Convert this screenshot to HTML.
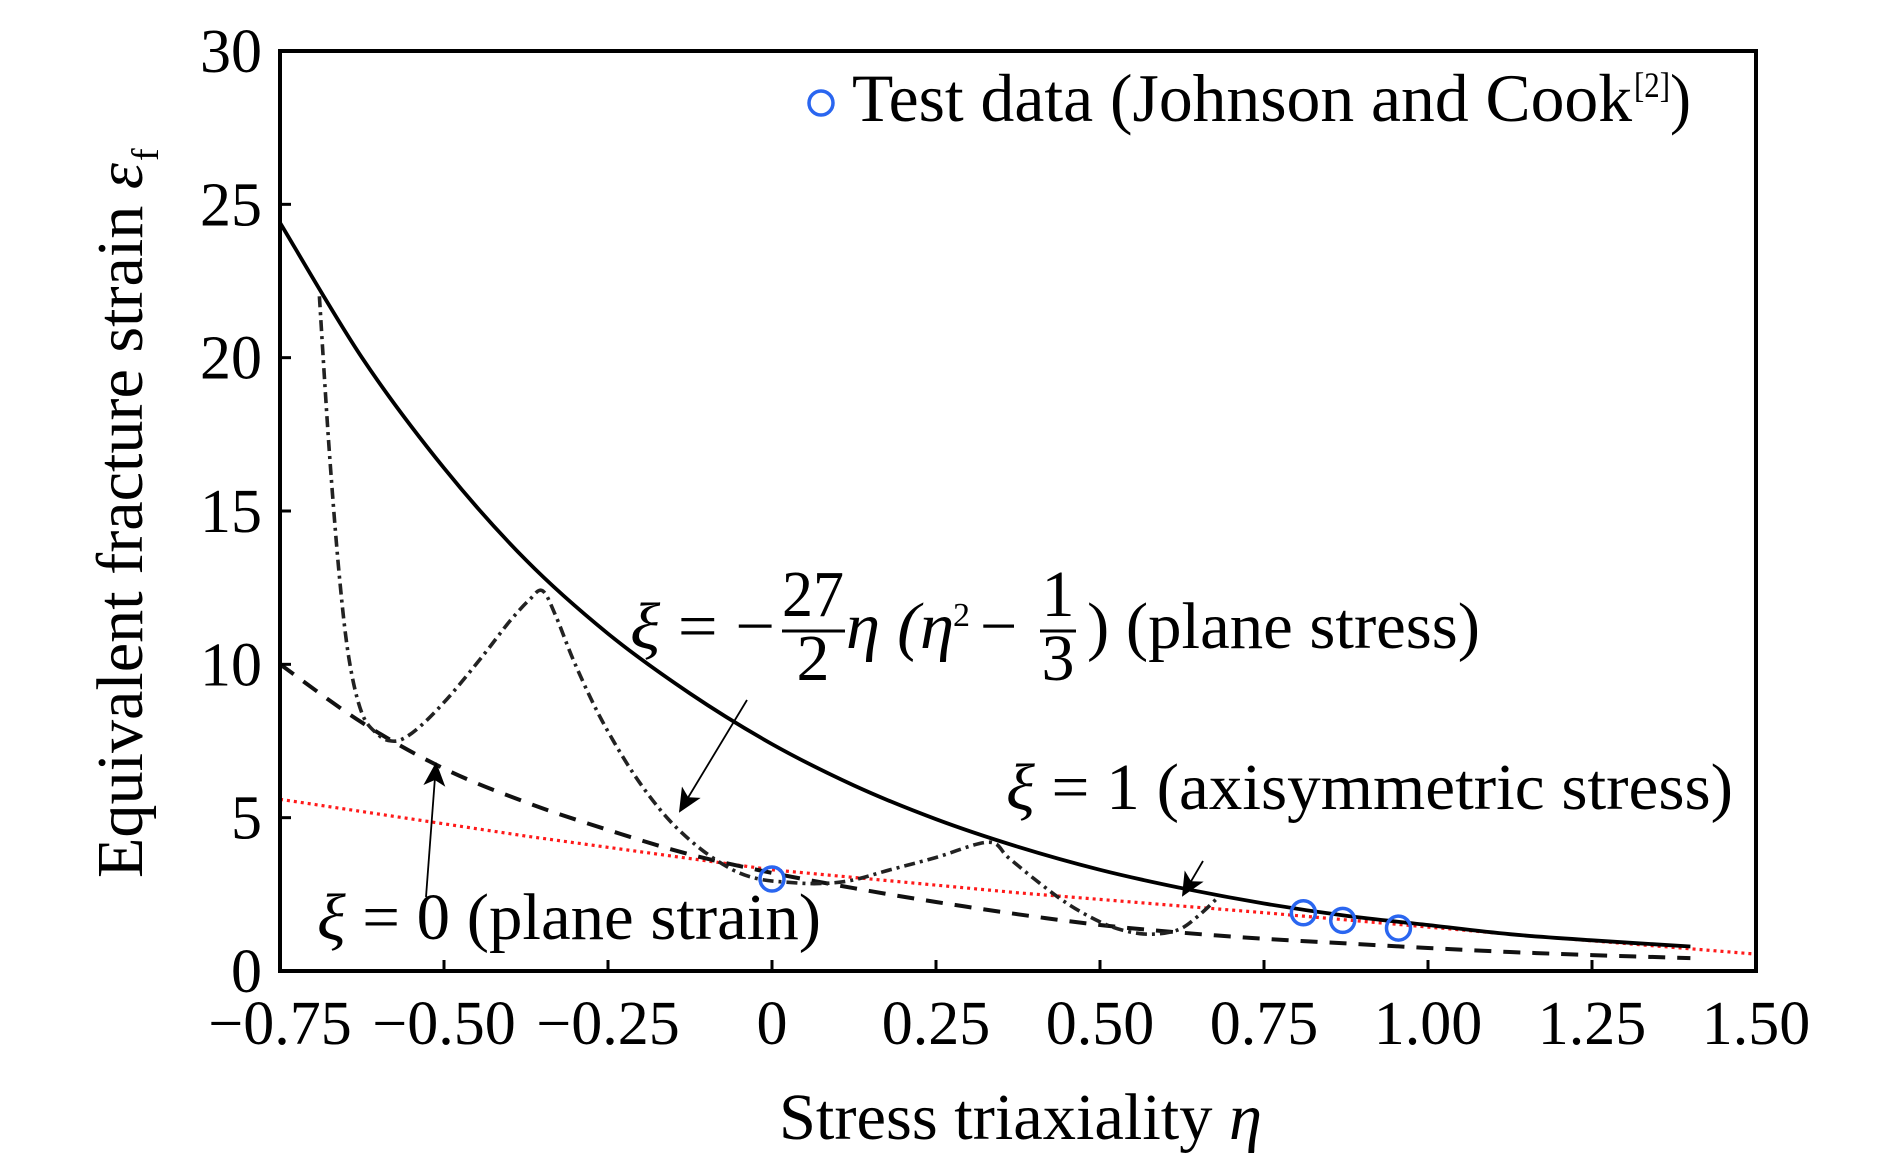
<!DOCTYPE html>
<html><head><meta charset="utf-8"><style>
html,body{margin:0;padding:0;background:#fff;}
svg{display:block;font-family:"Liberation Serif",serif;}
</style></head><body>
<svg id="chart" width="1890" height="1161" viewBox="0 0 1890 1161" xmlns="http://www.w3.org/2000/svg">
<defs>
<marker id="ah2" markerWidth="24" markerHeight="22" refX="22" refY="11" orient="auto" markerUnits="userSpaceOnUse"><path d="M0,0 L24,11 L0,22 L6,11 Z" fill="#000"/></marker>
</defs>
<g id="marks"></g>
<g id="axes"></g>
<g>
<circle cx="821" cy="103" r="12" fill="none" stroke="#2a66f0" stroke-width="3.5"/>
<text x="852" y="121" font-size="68" textLength="780" lengthAdjust="spacingAndGlyphs">Test data (Johnson and Cook</text>
<text x="1634" y="97" font-size="36" textLength="36" lengthAdjust="spacingAndGlyphs">[2]</text>
<text x="1670" y="121" font-size="68" textLength="21" lengthAdjust="spacingAndGlyphs">)</text>
</g>
<g font-size="66">
<text x="630" y="648" textLength="145" lengthAdjust="spacingAndGlyphs"><tspan font-style="italic">ξ</tspan> = −</text>
<text x="813" y="616" text-anchor="middle" textLength="62" lengthAdjust="spacingAndGlyphs">27</text>
<line x1="782" y1="631" x2="845" y2="631" stroke="#000" stroke-width="3"/>
<text x="813" y="680" text-anchor="middle">2</text>
<text x="846" y="648" font-style="italic" textLength="108" lengthAdjust="spacingAndGlyphs">η (η</text>
<text x="953" y="626" font-size="34">2</text>
<text x="980" y="648">−</text>
<text x="1058" y="616" text-anchor="middle">1</text>
<line x1="1040" y1="631" x2="1076" y2="631" stroke="#000" stroke-width="3"/>
<text x="1058" y="680" text-anchor="middle">3</text>
<text x="1087" y="648" textLength="393" lengthAdjust="spacingAndGlyphs">) (plane stress)</text>
</g>
<text x="1006" y="809" font-size="66" textLength="727" lengthAdjust="spacingAndGlyphs"><tspan font-style="italic">ξ</tspan> = 1 (axisymmetric stress)</text>
<text x="317" y="939" font-size="66" textLength="504" lengthAdjust="spacingAndGlyphs"><tspan font-style="italic">ξ</tspan> = 0 (plane strain)</text>
<line x1="747" y1="700" x2="680" y2="811" stroke="#000" stroke-width="1.8" marker-end="url(#ah2)"/>
<line x1="426" y1="897" x2="436" y2="764" stroke="#000" stroke-width="1.8" marker-end="url(#ah2)"/>
<line x1="1203" y1="861" x2="1183" y2="895" stroke="#000" stroke-width="1.8" marker-end="url(#ah2)"/>
<text x="779" y="1139" font-size="66" textLength="483" lengthAdjust="spacingAndGlyphs">Stress triaxiality <tspan font-style="italic">η</tspan></text>
<g transform="translate(142,878) rotate(-90)">
<text x="0" y="0" font-size="66" textLength="715" lengthAdjust="spacingAndGlyphs">Equivalent fracture strain <tspan font-style="italic">ε</tspan></text>
<text x="717" y="16" font-size="38">f</text>
</g>
</svg>
<script>
const xTicks = [-0.75,-0.5,-0.25,0,0.25,0.5,0.75,1.0,1.25,1.5];
const xTickLabels = ["\u22120.75","\u22120.50","\u22120.25","0","0.25","0.50","0.75","1.00","1.25","1.50"];
const yTicks = [0,5,10,15,20,25,30];
const yTickLabels = ["0","5","10","15","20","25","30"];
const axiEta = [-0.75,-0.625,-0.5,-0.375,-0.25,-0.125,0,0.125,0.25,0.375,0.5,0.625,0.75,0.875,1.0,1.125,1.25,1.4];
const axiStrain = [24.4,20.0,16.4,13.4,11.0,9.05,7.4,6.05,4.95,4.05,3.3,2.7,2.2,1.8,1.5,1.2,1.0,0.8];
const strainEta = [-0.75,-0.625,-0.5,-0.375,-0.25,-0.125,0,0.125,0.25,0.375,0.5,0.625,0.75,0.875,1.0,1.125,1.25,1.4];
const strainStrain = [10.0,8.1,6.6,5.5,4.6,3.8,3.2,2.7,2.25,1.85,1.5,1.25,1.05,0.9,0.75,0.62,0.52,0.42];
const fitEta = [-0.75,-0.375,0,0.375,0.75,1.125,1.5];
const fitStrain = [5.6,4.4,3.3,2.55,1.9,1.2,0.55];
const stressEta = [-0.69,-0.675,-0.66,-0.645,-0.625,-0.6,-0.58,-0.56,-0.53,-0.49,-0.44,-0.4,-0.37,-0.35,-0.33,-0.3,-0.26,-0.21,-0.16,-0.11,-0.06,-0.02,0.02,0.07,0.12,0.18,0.25,0.33,0.36,0.4,0.45,0.5,0.54,0.58,0.62,0.65,0.68];
const stressStrain = [22.0,17.0,13.0,10.2,8.4,7.7,7.5,7.6,8.1,9.0,10.3,11.4,12.1,12.4,11.6,10.0,8.2,6.4,5.0,4.0,3.3,3.0,2.9,2.85,2.95,3.3,3.7,4.2,3.7,3.0,2.2,1.6,1.3,1.2,1.35,1.8,2.4];
const testEta = [0,0.81,0.87,0.955];
const testStrain = [3.0,1.9,1.65,1.4];

var NS = "http://www.w3.org/2000/svg";
var X0 = 280, X1 = 1756, Y0 = 971, Y1 = 51;
function sx(v){ return X0 + (v + 0.75) / 2.25 * (X1 - X0); }
function sy(v){ return Y0 - v / 30 * (Y0 - Y1); }
var marks = document.getElementById('marks');
var axes = document.getElementById('axes');
function mk(tag, attrs, parent){
  var e = document.createElementNS(NS, tag);
  for (var k in attrs) e.setAttribute(k, attrs[k]);
  parent.appendChild(e);
  return e;
}
function pathOf(xs, ys){
  return xs.map(function(x,i){ return (i? 'L':'M') + sx(x).toFixed(1) + ',' + sy(ys[i]).toFixed(1); }).join(' ');
}
function smoothPath(xs, ys){
  var p = xs.map(function(x,i){ return [sx(x), sy(ys[i])]; });
  var d = 'M' + p[0][0].toFixed(1) + ',' + p[0][1].toFixed(1);
  for (var i=0;i<p.length-1;i++){
    var p0 = p[Math.max(0,i-1)], p1 = p[i], p2 = p[i+1], p3 = p[Math.min(p.length-1,i+2)];
    var c1x = p1[0] + (p2[0]-p0[0])/6, c1y = p1[1] + (p2[1]-p0[1])/6;
    var c2x = p2[0] - (p3[0]-p1[0])/6, c2y = p2[1] - (p3[1]-p1[1])/6;
    d += ' C' + c1x.toFixed(1)+','+c1y.toFixed(1)+' '+c2x.toFixed(1)+','+c2y.toFixed(1)+' '+p2[0].toFixed(1)+','+p2[1].toFixed(1);
  }
  return d;
}
var fit = mk('path', {d: pathOf(fitEta, fitStrain), fill:'none', stroke:'#ff1a1a', 'stroke-width':3.2, 'stroke-dasharray':'3,4'}, marks);


var ps = mk('path', {d: smoothPath(strainEta, strainStrain), fill:'none', stroke:'#111', 'stroke-width':4, 'stroke-dasharray':'17,12'}, marks);


var st = mk('path', {d: smoothPath(stressEta, stressStrain), fill:'none', stroke:'#222', 'stroke-width':3.6, 'stroke-dasharray':'11,5,3,5'}, marks);


var ax = mk('path', {d: smoothPath(axiEta, axiStrain), fill:'none', stroke:'#000', 'stroke-width':3.8}, marks);


testEta.forEach(function(e,i){
  var c = mk('circle', {cx: sx(e), cy: sy(testStrain[i]), r: 12, fill:'none', stroke:'#2a66f0', 'stroke-width':3.5}, marks);
  
  
});
var frame = mk('rect', {x:X0, y:Y1, width:X1-X0, height:Y0-Y1, fill:'none', stroke:'#000', 'stroke-width':4}, axes);


xTicks.forEach(function(t,i){
  var x = sx(t);
  var tk = mk('line', {x1:x, y1:Y0, x2:x, y2:Y0-11, stroke:'#000', 'stroke-width':3}, axes);
  
  
  var lb = mk('text', {x:x, y:1044, 'font-size':62, 'text-anchor':'middle'}, axes);
  lb.textContent = xTickLabels[i];
  
  
});
yTicks.forEach(function(t,i){
  var y = sy(t);
  var tk = mk('line', {x1:X0, y1:y, x2:X0+11, y2:y, stroke:'#000', 'stroke-width':3}, axes);
  
  
  var lb = mk('text', {x:262, y:y+21, 'font-size':62, 'text-anchor':'end'}, axes);
  lb.textContent = yTickLabels[i];
  
  
});
</script>
</body></html>
